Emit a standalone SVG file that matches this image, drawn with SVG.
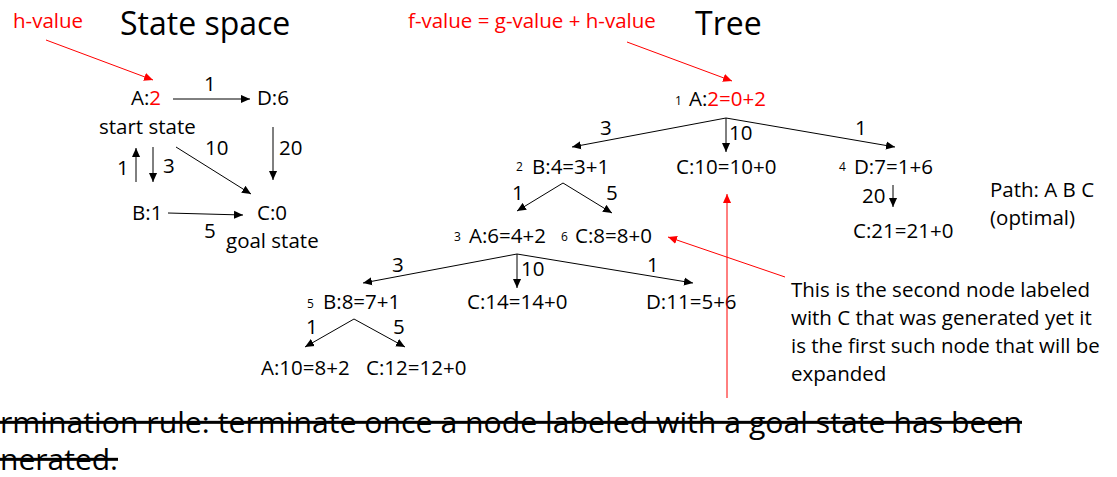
<svg xmlns="http://www.w3.org/2000/svg" width="1117" height="477" viewBox="0 0 1117 477">
<style>
text{font-family:"Open Sans","Liberation Sans",sans-serif;fill:#000}
.t{font-size:20.5px}
.h{font-size:32px}
.s{font-size:12px}
.r{fill:#f00}
.e{stroke:#000;stroke-width:1;fill:none;marker-end:url(#ah)}
.re{stroke:#f00;stroke-width:1;fill:none;marker-end:url(#ar)}
.big{font-size:30px}
</style>
<defs>
<marker id="ah" viewBox="0 0 10 10" refX="10" refY="5" markerWidth="9" markerHeight="9" markerUnits="userSpaceOnUse" orient="auto"><path d="M0,0.5 L10,5 L0,9.5z" fill="#000"/></marker>
<marker id="ar" viewBox="0 0 10 10" refX="10" refY="5" markerWidth="9" markerHeight="9" markerUnits="userSpaceOnUse" orient="auto"><path d="M0,0.5 L10,5 L0,9.5z" fill="#f00"/></marker>
</defs>

<g id="titles">
<text class="t r" x="13" y="28">h-value</text>
<text class="h" x="120" y="35">State space</text>
<text class="t r" x="408" y="28">f-value = g-value + h-value</text>
<text class="h" x="695" y="35">Tree</text>
</g>

<g id="state-space">
<g id="ss-A"><text class="t" x="131" y="105">A:<tspan class="r">2</tspan></text><text class="t" x="99" y="134">start state</text></g>
<g id="ss-D"><text class="t" x="257" y="105">D:6</text></g>
<g id="ss-B"><text class="t" x="132" y="220">B:1</text></g>
<g id="ss-C"><text class="t" x="257" y="220">C:0</text><text class="t" x="226" y="248">goal state</text></g>
</g>

<g id="tree">
<g id="n1"><text class="s" x="675" y="105">1</text><text class="t" x="689" y="106">A:<tspan class="r">2=0+2</tspan></text></g>
<g id="n2"><text class="s" x="516" y="171">2</text><text class="t" x="532" y="174">B:4=3+1</text></g>
<g id="nC10"><text class="t" x="676" y="174">C:10=10+0</text></g>
<g id="n4"><text class="s" x="839" y="171">4</text><text class="t" x="854" y="174">D:7=1+6</text></g>
<g id="nC21"><text class="t" x="853" y="238">C:21=21+0</text></g>
<g id="n3"><text class="s" x="454" y="241">3</text><text class="t" x="469" y="243">A:6=4+2</text></g>
<g id="n6"><text class="s" x="561" y="241">6</text><text class="t" x="575" y="243">C:8=8+0</text></g>
<g id="n5"><text class="s" x="307" y="308">5</text><text class="t" x="323" y="309">B:8=7+1</text></g>
<g id="nC14"><text class="t" x="467" y="309">C:14=14+0</text></g>
<g id="nD11"><text class="t" x="646" y="309">D:11=5+6</text></g>
<g id="nA10"><text class="t" x="261" y="375">A:10=8+2</text></g>
<g id="nC12"><text class="t" x="366" y="375">C:12=12+0</text></g>
</g>

<g id="connectors">
<line class="re" x1="46" y1="40" x2="153" y2="80"/>
<line class="re" x1="627" y1="42" x2="732" y2="81"/>
<line class="e" x1="173" y1="99" x2="250" y2="99"/>
<line class="e" x1="136" y1="182" x2="136" y2="148"/>
<line class="e" x1="153" y1="147" x2="153" y2="182"/>
<line class="e" x1="176" y1="147" x2="251" y2="194"/>
<line class="e" x1="273" y1="127" x2="273" y2="180"/>
<line class="e" x1="168" y1="213" x2="243" y2="215"/>

<line class="e" x1="726" y1="118" x2="572" y2="147"/>
<line class="e" x1="726" y1="118" x2="895" y2="147"/>
<line class="e" x1="726" y1="118" x2="726" y2="152"/>
<line class="e" x1="893" y1="185" x2="893" y2="207"/>
<line class="e" x1="563" y1="183" x2="517" y2="211"/>
<line class="e" x1="563" y1="183" x2="612" y2="213"/>
<line class="e" x1="517" y1="254" x2="363" y2="283"/>
<line class="e" x1="517" y1="254" x2="517" y2="288"/>
<line class="e" x1="517" y1="254" x2="693" y2="283"/>
<line class="e" x1="354" y1="319" x2="305" y2="347"/>
<line class="e" x1="354" y1="319" x2="405" y2="347"/>

<line class="re" x1="785" y1="277" x2="668" y2="237"/>
<line class="re" x1="727" y1="398" x2="727" y2="194"/>

<g id="edge-labels">
<text class="t" x="204" y="91">1</text>
<text class="t" x="117" y="175">1</text>
<text class="t" x="163" y="173">3</text>
<text class="t" x="205" y="155">10</text>
<text class="t" x="279" y="155">20</text>
<text class="t" x="204" y="238">5</text>
<text class="t" x="600" y="135">3</text>
<text class="t" x="729" y="140">10</text>
<text class="t" x="855" y="135">1</text>
<text class="t" x="862" y="203">20</text>
<text class="t" x="512" y="200">1</text>
<text class="t" x="606" y="200">5</text>
<text class="t" x="392" y="272">3</text>
<text class="t" x="521" y="276">10</text>
<text class="t" x="647" y="272">1</text>
<text class="t" x="306" y="334">1</text>
<text class="t" x="393" y="334">5</text>
</g>
</g>

<g id="notes">
<text class="t" x="990" y="197">Path: A B C</text>
<text class="t" x="990" y="225">(optimal)</text>
<text class="t" x="791" y="297">This is the second node labeled</text>
<text class="t" x="791" y="325">with C that was generated yet it</text>
<text class="t" x="791" y="353">is the first such node that will be</text>
<text class="t" x="791" y="381">expanded</text>
<text class="big" x="0" y="433" textLength="1022" lengthAdjust="spacingAndGlyphs" text-decoration="line-through">rmination rule: terminate once a node labeled with a goal state has been</text>
<text class="big" x="0" y="470" textLength="118" lengthAdjust="spacingAndGlyphs" text-decoration="line-through">nerated.</text>
</g>
</svg>
